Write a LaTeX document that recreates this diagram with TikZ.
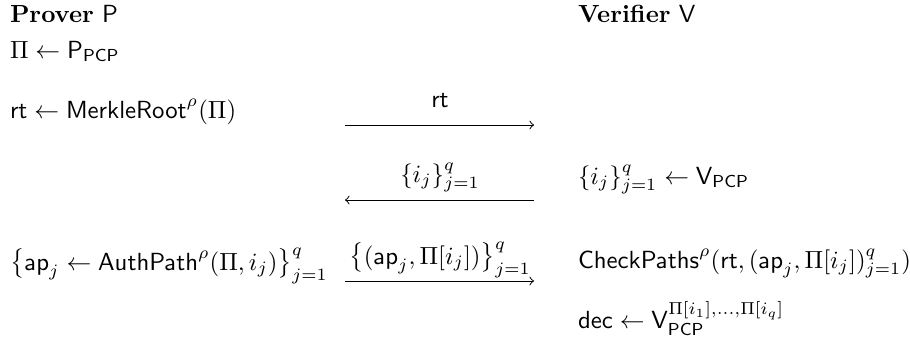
\documentclass[tikz,border=0pt]{standalone}
\usetikzlibrary{arrows}
\begin{document}
\begin{tikzpicture}[x=0.4032pt,y=-0.4032pt,
  txt/.style={anchor=base west,inner sep=0pt,outer sep=0pt},
  lbl/.style={anchor=base,inner sep=0pt,outer sep=0pt},
  msg/.style={line width=0.4pt,-to}]
\useasboundingbox (0,0) rectangle (910,347);
\node[txt] (ph) at (10,22) {\textbf{Prover} $\mathsf{P}$};
\node[txt] (vh) at (578,22) {\textbf{Verifier} $\mathsf{V}$};
\node[txt] (p1) at (10,58) {$\Pi \leftarrow \mathsf{P}_{\mathsf{PCP}}$};
\node[txt] (p2) at (10,118) {$\mathsf{rt} \leftarrow \mathsf{MerkleRoot}^{\rho}(\Pi)$};
\node[txt] (p3) at (10,270) {$\left\{\mathsf{ap}_j \leftarrow \mathsf{AuthPath}^{\rho}(\Pi,i_j)\right\}_{j=1}^{q}$};
\node[txt] (v1) at (578,184) {$\{i_j\}_{j=1}^{q} \leftarrow \mathsf{V}_{\mathsf{PCP}}$};
\node[txt] (v2) at (578,268) {$\mathsf{CheckPaths}^{\rho}(\mathsf{rt},(\mathsf{ap}_j,\Pi[i_j])_{j=1}^{q})$};
\node[txt] (v3) at (578,328) {$\mathsf{dec} \leftarrow \mathsf{V}_{\mathsf{PCP}}^{\Pi[i_1],\ldots,\Pi[i_q]}$};
\coordinate (a1l) at (345,125); \coordinate (a1r) at (534,125);
\coordinate (a2l) at (345,200); \coordinate (a2r) at (534,200);
\coordinate (a3l) at (345,281); \coordinate (a3r) at (534,281);
\draw[msg] (a1l) -- (a1r);
\draw[msg] (a2r) -- (a2l);
\draw[msg] (a3l) -- (a3r);
\node[lbl] (m1) at (440,107) {$\mathsf{rt}$};
\node[lbl] (m2) at (440,182) {$\{i_j\}_{j=1}^{q}$};
\node[lbl] (m3) at (440,264) {$\left\{(\mathsf{ap}_j,\Pi[i_j])\right\}_{j=1}^{q}$};
\end{tikzpicture}
\end{document}
